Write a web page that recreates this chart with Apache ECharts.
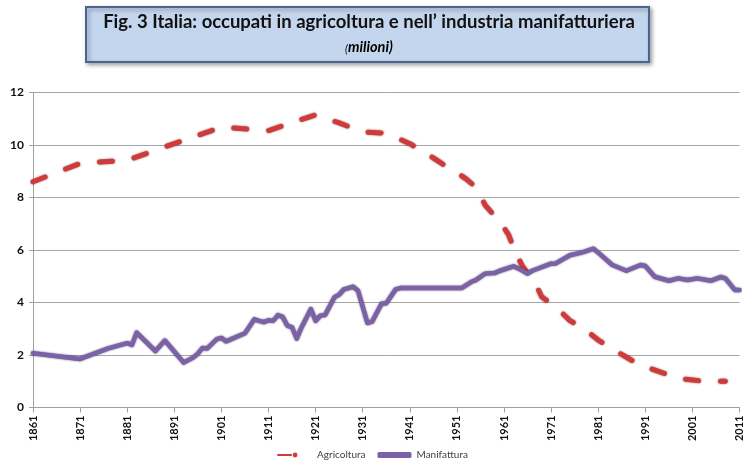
<!DOCTYPE html>
<html>
<head>
<meta charset="utf-8">
<script src="https://cdn.jsdelivr.net/npm/echarts@6/dist/echarts.min.js"></script>
<style>html,body{margin:0;padding:0;background:#fff}#c{width:745px;height:467px}</style>
</head>
<body>
<div id="c"></div>
<script>
// Tick labels on the x axis
var tickYears = [1861,1871,1881,1891,1901,1911,1921,1931,1941,1951,1961,1971,1981,1991,2001,2011];

// Agricoltura (milioni)
var agriYears  = [1861,1871,1881,1891,1901,1911,1921,1926,1931,1936,1941,1945,1948,1951,1953,1955,1957,1959,1960,1961,1962,1963,1964,1965,1966,1967,1968,1969,1971,1972,1975,1978,1981,1984,1988,1991,1995,1999,2003,2008];
var agriValues = [8.6,9.3,9.42,10.05,10.68,10.55,11.15,10.84,10.5,10.45,10.05,9.62,9.27,8.95,8.7,8.4,7.71,7.3,7.1,6.85,6.57,6.1,5.7,5.36,5.12,4.95,4.6,4.22,3.95,3.83,3.31,3.0,2.57,2.23,1.81,1.55,1.3,1.09,1.01,1.0];

// Manifattura (milioni)
var manYears  = [1861,1871,1877,1881,1882,1883,1887,1889,1893,1895,1896,1897,1898,1900,1901,1902,1906,1908,1909,1910,1911,1912,1913,1914,1915,1916,1917,1918,1920,1921,1922,1923,1925,1926,1927,1929,1930,1932,1933,1935,1936,1938,1939,1952,1954,1955,1957,1959,1960,1963,1964,1966,1967,1971,1972,1975,1977,1978,1980,1981,1984,1987,1990,1991,1993,1996,1998,2000,2002,2005,2007,2008,2010,2011];
var manValues = [2.07,1.85,2.25,2.45,2.38,2.85,2.15,2.55,1.71,1.9,2.05,2.27,2.25,2.6,2.65,2.52,2.83,3.36,3.3,3.25,3.32,3.3,3.52,3.45,3.12,3.05,2.62,3.05,3.75,3.3,3.5,3.52,4.2,4.3,4.5,4.6,4.45,3.22,3.27,3.95,3.97,4.5,4.55,4.55,4.78,4.85,5.1,5.12,5.2,5.38,5.3,5.1,5.21,5.48,5.49,5.8,5.88,5.93,6.05,5.9,5.43,5.21,5.43,5.39,4.98,4.83,4.92,4.86,4.92,4.83,4.97,4.92,4.48,4.48];

function pairs(xs, ys){ return xs.map(function(x,i){ return [x, ys[i]]; }); }

var chart = echarts.init(document.getElementById('c'), null, {renderer:'canvas'});
chart.setOption({
  backgroundColor: '#fff',
  animation: false,
  graphic: [
    {type:'rect', shape:{x:86,y:7,width:563,height:55},
     style:{fill:'#c4d6ee', stroke:'#4a6590', lineWidth:2, shadowBlur:4, shadowColor:'rgba(0,0,0,0.35)', shadowOffsetX:2, shadowOffsetY:2}},
    {type:'text', x:369, y:22, style:{text:'Fig. 3 Italia: occupati in agricoltura e nell\u2019 industria manifatturiera', font:'bold 18.5px Lato', textAlign:'center', textVerticalAlign:'middle', fill:'#111'}},
    {type:'text', x:369, y:47, style:{text:'{s|(}{m|milioni)}', textAlign:'center', textVerticalAlign:'middle',
      rich:{s:{fontSize:11, fontStyle:'italic', fontFamily:'Lato', color:'#111', verticalAlign:'bottom'}, m:{fontSize:14.5, fontStyle:'italic', fontWeight:'bold', fontFamily:'Lato', color:'#111'}}}}
  ],
  grid: {left:33, right:5, top:92.5, bottom:59.5, containLabel:false},
  legend: {
    bottom: 2, left: 'center',
    itemWidth: 34, itemHeight: 6, itemGap: 12,
    textStyle: {fontFamily:'Lato', fontSize:10, color:'#404040'},
    data: [{name:'Agricoltura'}, {name:'Manifattura', icon:'roundRect'}]
  },
  xAxis: {
    type:'value', min:1861, max:2011,
    axisLine:{show:true, lineStyle:{color:'#a0a0a0', width:1}},
    axisTick:{show:true, length:5, lineStyle:{color:'#a0a0a0'}, customValues: tickYears},
    axisLabel:{customValues: tickYears, rotate:90, margin:8, fontFamily:'Lato', fontWeight:'bold', fontSize:11, color:'#111', formatter:function(v){return String(v);}},
    splitLine:{show:false}
  },
  yAxis: {
    type:'value', min:0, max:12, interval:2,
    axisLine:{show:true, lineStyle:{color:'#a0a0a0', width:1}},
    axisTick:{show:true, length:4, lineStyle:{color:'#a0a0a0'}},
    axisLabel:{margin:9, fontFamily:'Lato', fontWeight:'bold', fontSize:12, color:'#111'},
    splitLine:{show:true, lineStyle:{color:'#a6a6a6', width:1}}
  },
  series: [
    {name:'Agricoltura', type:'line', symbol:'none', data: pairs(agriYears, agriValues),
     itemStyle:{color:'#cf3a3b'},
     lineStyle:{color:'#cf3a3b', width:5, type:[13,22], cap:'round', join:'round', shadowBlur:2, shadowColor:'rgba(90,10,10,0.7)'}},
    {name:'Manifattura', type:'line', symbol:'none', data: pairs(manYears, manValues),
     itemStyle:{color:'#7b62a6'},
     lineStyle:{color:'#7b62a6', width:4.5, cap:'round', join:'round', shadowBlur:2, shadowColor:'rgba(40,20,70,0.75)'}}
  ]
});
</script>
</body>
</html>
